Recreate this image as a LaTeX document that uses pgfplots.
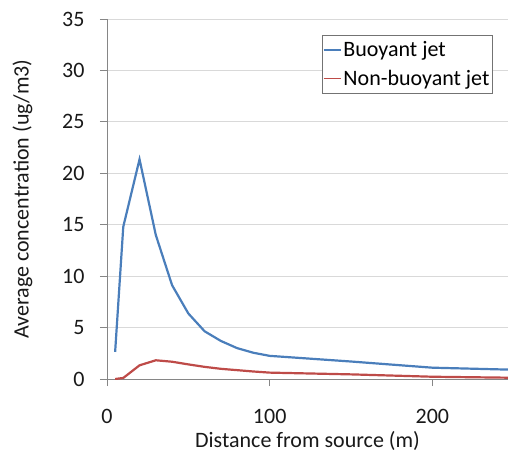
\documentclass[border=0pt]{standalone}
\usepackage{pgfplots}
\pgfplotsset{compat=1.18}
\usepackage{fontspec}
\setmainfont{Carlito}
\definecolor{ablue}{HTML}{4A7EBB}
\definecolor{ared}{HTML}{BE4B48}
\definecolor{gridc}{HTML}{D9D9D9}
\definecolor{axc}{HTML}{868686}
\newcommand{\ff}{\fontsize{22}{26}\selectfont}
\begin{document}
\begin{tikzpicture}[x=1pt,y=1pt]
\useasboundingbox (-107,-81) rectangle (401,379);
\begin{axis}[
  at={(0,0)}, anchor=south west,
  scale only axis, width=401pt, height=360pt,
  xmin=0, xmax=246.5, ymin=0, ymax=35,
  xtick={0,100,200}, ytick={0,5,...,35},
  axis lines*=left, axis line style={axc, line width=0.8pt},
  tick align=outside, tick style={axc, line width=0.8pt},
  major tick length=7pt,
  ymajorgrids, grid style={gridc, line width=0.8pt},
  /pgf/number format/assume math mode=true,
  ticklabel style={font=\ff, text=black!90},
  xticklabel style={yshift=-20pt},
  yticklabel style={xshift=-12pt},
  xlabel={Distance from source (m)},
  ylabel={Average concentration (ug/m3)},
  label style={font=\ff, text=black!90},
  xlabel style={yshift=-1pt},
  ylabel style={yshift=23pt},
  legend style={at={(0.962,0.955)}, anchor=north east, draw=black!55, line width=0.6pt,
    font=\ff, inner xsep=1pt, inner ysep=4pt, row sep=8pt},
  legend cell align=left,
  legend image code/.code={\draw[#1, line width=1.6pt] (0pt,0pt) -- (17pt,0pt);},
  clip=true,
]
\addplot[ablue, line width=2.2pt] coordinates {
(5,2.63) (10,14.8) (20,21.36) (30,14.0) (40,9.12) (50,6.37) (60,4.64) (70,3.7)
(80,3.0) (90,2.55) (100,2.25) (150,1.7) (200,1.1) (250,0.9)};
\addlegendentry{Buoyant jet}
\addplot[ared, line width=2.2pt] coordinates {
(5,0.0) (10,0.1) (20,1.33) (30,1.82) (40,1.68) (50,1.42) (60,1.18) (70,0.99)
(80,0.86) (90,0.73) (100,0.62) (150,0.45) (200,0.22) (250,0.12)};
\addlegendentry{Non-buoyant jet}
\end{axis}
\end{tikzpicture}
\end{document}
